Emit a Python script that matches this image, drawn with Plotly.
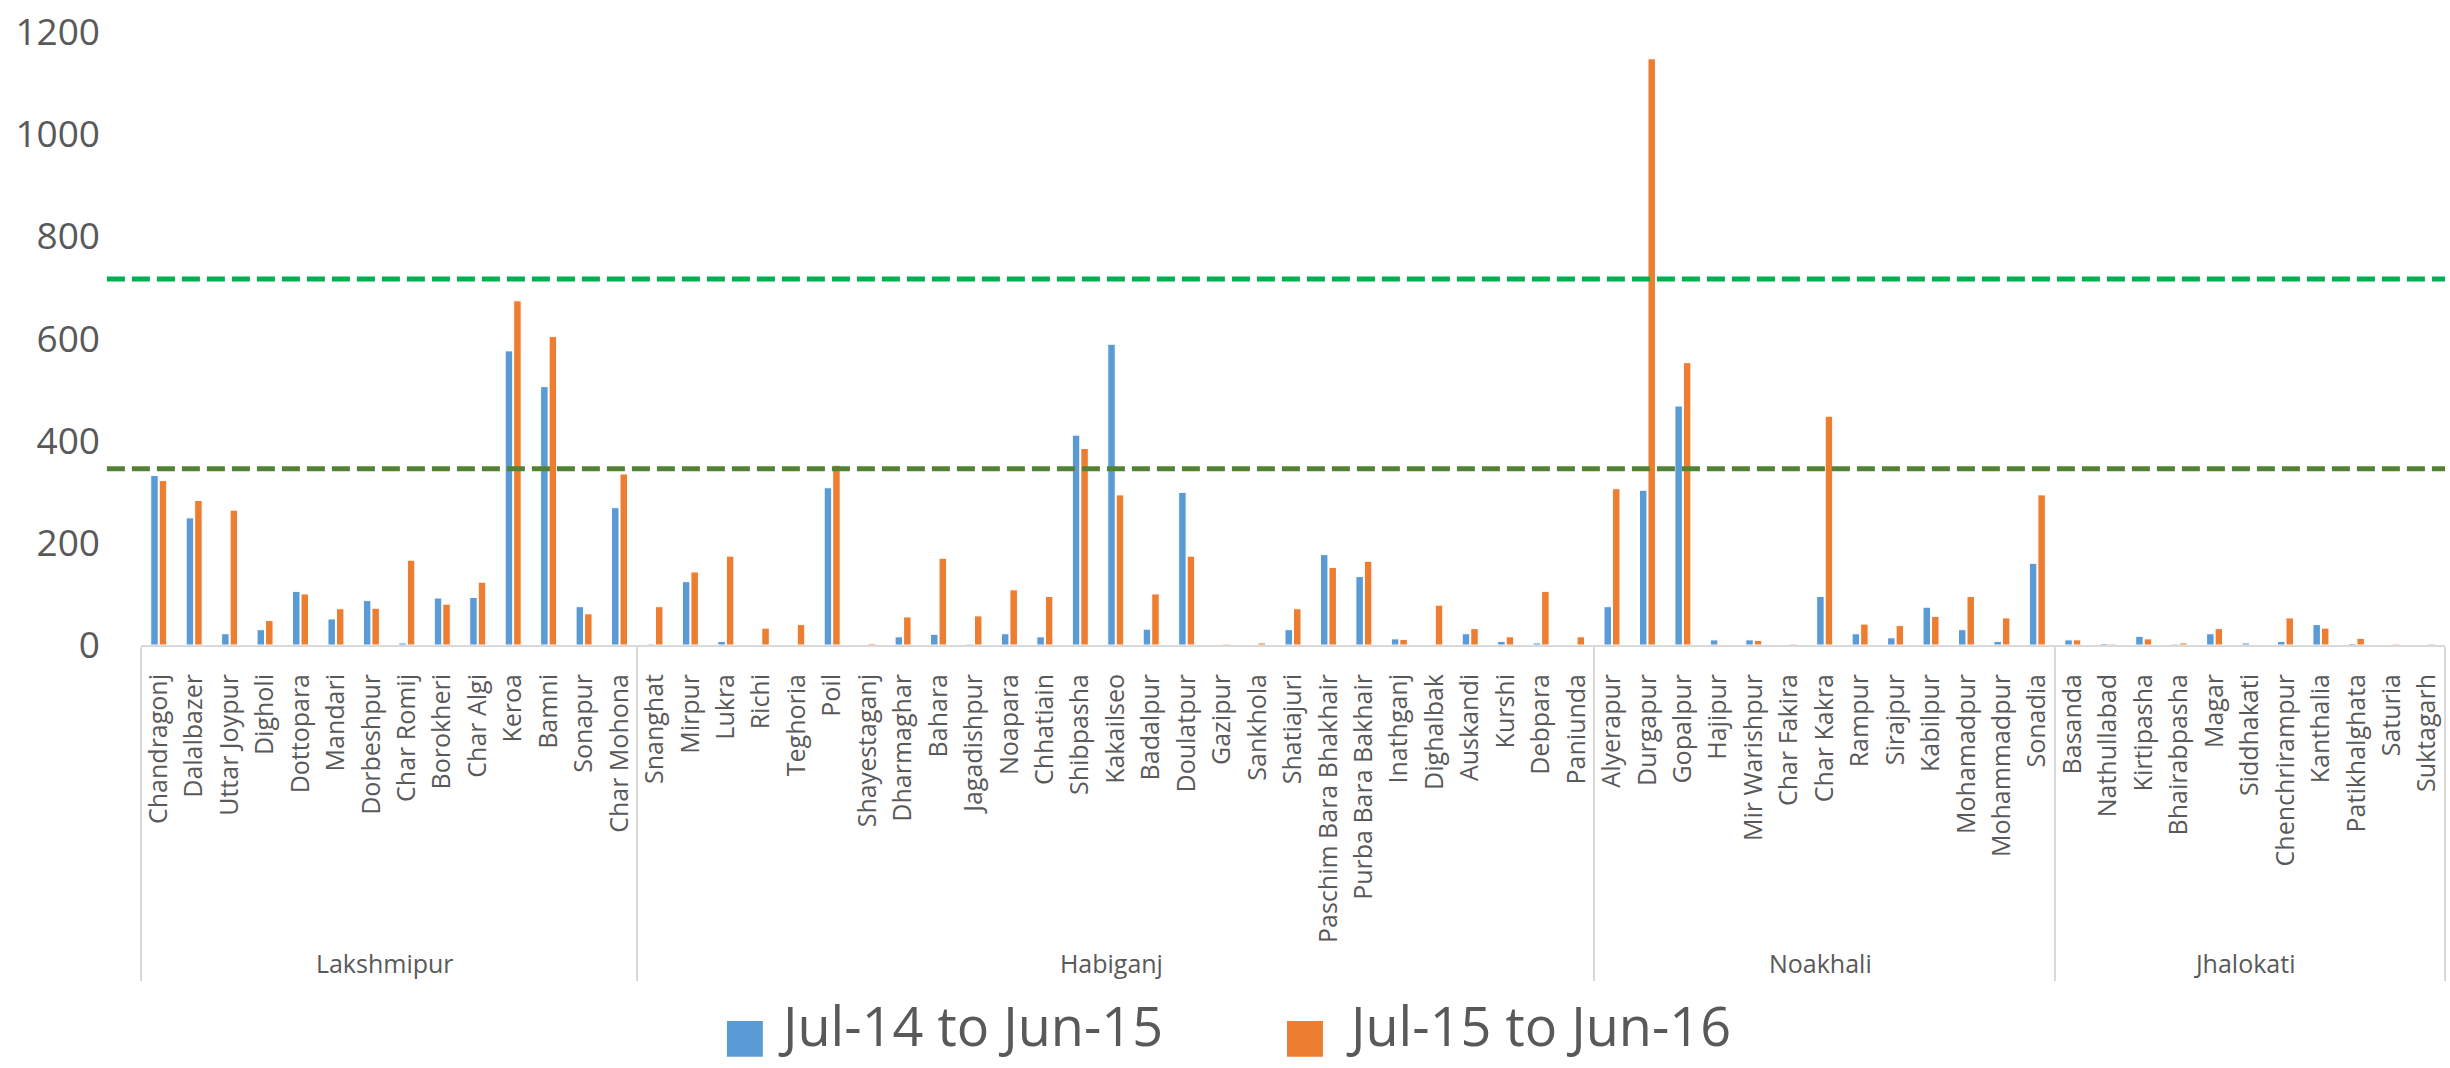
import plotly.graph_objects as go

districts = ["Lakshmipur", "Habiganj", "Noakhali", "Jhalokati"]

lakshmipur = ["Chandragonj", "Dalalbazer", "Uttar Joypur", "Digholi", "Dottopara", "Mandari",
              "Dorbeshpur", "Char Romij", "Borokheri", "Char Algi", "Keroa", "Bamni", "Sonapur",
              "Char Mohona"]
habiganj = ["Snanghat", "Mirpur", "Lukra", "Richi", "Teghoria", "Poil", "Shayestaganj",
            "Dharmaghar", "Bahara", "Jagadishpur", "Noapara", "Chhatiain", "Shibpasha",
            "Kakailseo", "Badalpur", "Doulatpur", "Gazipur", "Sankhola", "Shatiajuri",
            "Paschim Bara Bhakhair", "Purba Bara Bakhair", "Inathganj", "Dighalbak", "Auskandi",
            "Kurshi", "Debpara", "Paniunda"]
noakhali = ["Alyerapur", "Durgapur", "Gopalpur", "Hajipur", "Mir Warishpur", "Char Fakira",
            "Char Kakra", "Rampur", "Sirajpur", "Kabilpur", "Mohamadpur", "Mohammadpur", "Sonadia"]
jhalokati = ["Basanda", "Nathullabad", "Kirtipasha", "Bhairabpasha", "Magar", "Siddhakati",
             "Chenchrirampur", "Kanthalia", "Patikhalghata", "Saturia", "Suktagarh"]

# Jul-14 to Jun-15
lak_14 = [332, 249, 22, 30, 105, 51, 87, 4, 92, 93, 576, 506, 75, 269]
hab_14 = [2, 124, 7, 0, 0, 308, 0, 16, 21, 2, 22, 16, 411, 589, 31, 299, 0, 0, 30, 177, 134,
          12, 0, 22, 7, 4, 0]
noa_14 = [75, 303, 468, 10, 10, 1, 95, 22, 14, 74, 30, 7, 160]
jha_14 = [10, 3, 17, 2, 22, 4, 7, 40, 3, 0, 0]

# Jul-15 to Jun-16
lak_15 = [322, 283, 264, 48, 100, 71, 72, 166, 80, 123, 674, 604, 61, 335]
hab_15 = [75, 143, 174, 33, 40, 352, 3, 55, 170, 57, 108, 95, 385, 294, 100, 174, 2, 4, 71,
          152, 164, 11, 78, 32, 16, 105, 16]
noa_15 = [306, 1148, 553, 0, 9, 2, 448, 41, 38, 56, 95, 53, 294]
jha_15 = [10, 2, 12, 4, 32, 0, 53, 33, 13, 2, 2]

series_names = ["Jul-14 to Jun-15", "Jul-15 to Jun-16"]
threshold_high = 717
threshold_low = 345
y_ticks = [0, 200, 400, 600, 800, 1000, 1200]

villages = lakshmipur + habiganj + noakhali + jhalokati
groups = ([districts[0]] * len(lakshmipur) + [districts[1]] * len(habiganj)
          + [districts[2]] * len(noakhali) + [districts[3]] * len(jhalokati))
vals_14 = lak_14 + hab_14 + noa_14 + jha_14
vals_15 = lak_15 + hab_15 + noa_15 + jha_15

BLUE = "#5B9BD5"
ORANGE = "#ED7D31"
GREY_TXT = "#595959"
colors = [BLUE, ORANGE]

fig = go.Figure()
for name, vals, col in [(series_names[0], vals_14, BLUE), (series_names[1], vals_15, ORANGE)]:
    fig.add_trace(go.Bar(x=[groups, villages], y=vals, name=name, showlegend=False,
                         marker=dict(color=col, line=dict(color="white", width=1))))

for val, col in [(threshold_high, "#00B050"), (threshold_low, "#548235")]:
    fig.add_shape(type="line", xref="paper", yref="y", x0=-0.0148, x1=1, y0=val, y1=val,
                  line=dict(color=col, width=5, dash="18px,7px"), layer="above")

# Legend drawn as large swatches + text (paper coordinates)
legend_swatch_x = [0.2543, 0.4974]
legend_text_x = [0.2758, 0.5222]
for i, name in enumerate(series_names):
    fig.add_shape(type="rect", xref="paper", yref="paper",
                  x0=legend_swatch_x[i], x1=legend_swatch_x[i] + 0.0156,
                  y0=-0.6716, y1=-0.6133, fillcolor=colors[i], line=dict(width=0))
    fig.add_annotation(xref="paper", yref="paper", x=legend_text_x[i], y=-0.6840,
                       xanchor="left", yanchor="bottom", showarrow=False, text=name,
                       font=dict(family="Open Sans", size=54, color=GREY_TXT))

fig.update_layout(
    width=2450, height=1068,
    margin=dict(l=141, r=5, t=27, b=423),
    paper_bgcolor="white", plot_bgcolor="white",
    barmode="group", bargap=0.52, bargroupgap=0.12,
    font=dict(family="Open Sans", color=GREY_TXT),
    showlegend=False,
    xaxis=dict(type="multicategory", tickangle=-90,
               tickfont=dict(family="Open Sans", size=25, color=GREY_TXT),
               ticklabelstandoff=17,
               showline=True, linecolor="#D9D9D9", linewidth=2,
               showdividers=True, dividercolor="#D9D9D9", dividerwidth=2,
               showgrid=False, ticks=""),
    yaxis=dict(range=[0, 1200.5], tickvals=y_ticks, showgrid=False, zeroline=False,
               showline=False, ticklabelstandoff=40,
               tickfont=dict(family="Open Sans", size=37, color=GREY_TXT)),
)

fig.write_html("out.html")
